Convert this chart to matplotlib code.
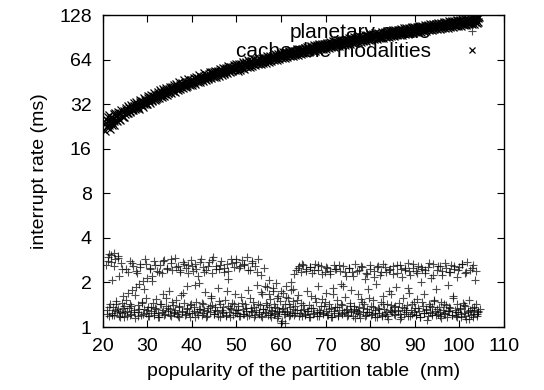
import matplotlib
matplotlib.use('Agg')
import matplotlib.pyplot as plt
from matplotlib.ticker import FixedLocator, FixedFormatter

plt.rcParams['font.family'] = ['Liberation Sans', 'DejaVu Sans']

# upper band: "cacheable modalities" (x markers)
cache_x = [
    20.6, 20.8, 21.0, 21.2, 21.4, 21.6, 21.9, 22.1, 22.4, 22.6, 22.9, 23.2, 23.5, 23.8, 24.1, 24.5,
    24.8, 25.1, 25.4, 25.7, 26.0, 26.3, 26.6, 26.9, 27.2, 27.5, 27.8, 28.1, 28.4, 28.7, 29.0, 29.3, 29.6, 29.9,
    30.2, 30.5, 30.8, 31.1, 31.4, 31.7, 32.0, 32.3, 32.6, 32.9, 33.2, 33.5, 33.8, 34.1, 34.4, 34.7,
    35.0, 35.3, 35.6, 35.9, 36.2, 36.5, 36.8, 37.1, 37.4, 37.7, 38.0, 38.3, 38.6, 38.9, 39.2, 39.5, 39.8,
    40.1, 40.4, 40.7, 41.0, 41.3, 41.6, 41.9, 42.2, 42.5, 42.8, 43.1, 43.4, 43.7, 44.0, 44.3, 44.6, 44.9,
    45.2, 45.5, 45.8, 46.1, 46.4, 46.7, 47.0, 47.3, 47.6, 47.9, 48.2, 48.5, 48.8, 49.1, 49.4, 49.7,
    50.0, 50.3, 50.6, 50.9, 51.2, 51.5, 51.8, 52.1, 52.4, 52.7, 53.0, 53.3, 53.6, 53.9, 54.2, 54.5, 54.8,
    55.1, 55.4, 55.7, 56.0, 56.3, 56.6, 56.9, 57.2, 57.5, 57.8, 58.1, 58.4, 58.7, 59.0, 59.3, 59.6, 59.9,
    60.2, 60.5, 60.8, 61.1, 61.4, 61.7, 62.0, 62.3, 62.6, 62.9, 63.2, 63.5, 63.8, 64.1, 64.4, 64.7,
    65.0, 65.3, 65.6, 65.9, 66.2, 66.5, 66.8, 67.1, 67.4, 67.7, 68.0, 68.3, 68.6, 68.9, 69.2, 69.5, 69.8,
    70.1, 70.4, 70.7, 71.0, 71.3, 71.6, 71.9, 72.2, 72.5, 72.8, 73.1, 73.4, 73.7, 74.0, 74.3, 74.6, 74.9,
    75.2, 75.5, 75.8, 76.1, 76.4, 76.7, 77.0, 77.3, 77.6, 77.9, 78.2, 78.5, 78.8, 79.1, 79.4, 79.7,
    80.0, 80.3, 80.6, 80.9, 81.2, 81.5, 81.8, 82.1, 82.4, 82.7, 83.0, 83.3, 83.6, 83.9, 84.2, 84.5, 84.8,
    85.1, 85.4, 85.7, 86.0, 86.3, 86.6, 86.9, 87.2, 87.5, 87.8, 88.1, 88.4, 88.7, 89.0, 89.3, 89.6, 89.9,
    90.2, 90.5, 90.8, 91.1, 91.4, 91.7, 92.0, 92.3, 92.6, 92.9, 93.2, 93.5, 93.8, 94.1, 94.4, 94.7,
    95.0, 95.3, 95.6, 95.9, 96.2, 96.5, 96.8, 97.1, 97.4, 97.7, 98.0, 98.3, 98.6, 98.9, 99.2, 99.5, 99.8,
    100.1, 100.4, 100.7, 101.0, 101.3, 101.6, 101.9, 102.2, 102.5, 102.8, 103.1, 103.4, 103.7, 104.0, 104.3,
    # second pass, closer to the middle of the band
    20.7, 20.9, 21.1, 21.3, 21.5, 21.75, 22.0, 22.25, 22.5, 22.75, 23.05, 23.35, 23.65, 23.95, 24.3, 24.65,
    24.95, 25.25, 25.55, 25.85, 26.15, 26.45, 26.75, 27.05, 27.35, 27.65, 27.95, 28.25, 28.55, 28.85, 29.15, 29.45, 29.75,
    30.05, 30.35, 30.65, 30.95, 31.25, 31.55, 31.85, 32.15, 32.45, 32.75, 33.05, 33.35, 33.65, 33.95, 34.25, 34.55, 34.85,
    35.15, 35.45, 35.75, 36.05, 36.35, 36.65, 36.95, 37.25, 37.55, 37.85, 38.15, 38.45, 38.75, 39.05, 39.35, 39.65, 39.95,
    40.25, 40.55, 40.85, 41.15, 41.45, 41.75, 42.05, 42.35, 42.65, 42.95, 43.25, 43.55, 43.85, 44.15, 44.45, 44.75,
    45.05, 45.35, 45.65, 45.95, 46.25, 46.55, 46.85, 47.15, 47.45, 47.75, 48.05, 48.35, 48.65, 48.95, 49.25, 49.55, 49.85,
    50.15, 50.45, 50.75, 51.05, 51.35, 51.65, 51.95, 52.25, 52.55, 52.85, 53.15, 53.45, 53.75, 54.05, 54.35, 54.65, 54.95,
    55.25, 55.55, 55.85, 56.15, 56.45, 56.75, 57.05, 57.35, 57.65, 57.95, 58.25, 58.55, 58.85, 59.15, 59.45, 59.75,
    60.05, 60.35, 60.65, 60.95, 61.25, 61.55, 61.85, 62.15, 62.45, 62.75, 63.05, 63.35, 63.65, 63.95, 64.25, 64.55, 64.85,
    65.15, 65.45, 65.75, 66.05, 66.35, 66.65, 66.95, 67.25, 67.55, 67.85, 68.15, 68.45, 68.75, 69.05, 69.35, 69.65, 69.95,
    70.25, 70.55, 70.85, 71.15, 71.45, 71.75, 72.05, 72.35, 72.65, 72.95, 73.25, 73.55, 73.85, 74.15, 74.45, 74.75,
    75.05, 75.35, 75.65, 75.95, 76.25, 76.55, 76.85, 77.15, 77.45, 77.75, 78.05, 78.35, 78.65, 78.95, 79.25, 79.55, 79.85,
    80.15, 80.45, 80.75, 81.05, 81.35, 81.65, 81.95, 82.25, 82.55, 82.85, 83.15, 83.45, 83.75, 84.05, 84.35, 84.65,
    85.0, 85.25, 85.55, 85.85, 86.15, 86.45, 86.75, 87.05, 87.35, 87.65, 87.95, 88.25, 88.55, 88.85, 89.15, 89.45, 89.75,
    90.05, 90.35, 90.65, 90.95, 91.25, 91.55, 91.85, 92.15, 92.45, 92.75, 93.05, 93.35, 93.65, 93.95, 94.25, 94.55, 94.85,
    95.15, 95.45, 95.75, 96.05, 96.35, 96.65, 96.95, 97.25, 97.55, 97.85, 98.15, 98.45, 98.75, 99.05, 99.35, 99.65, 99.95,
    100.25, 100.55, 100.85, 101.15, 101.45, 101.75, 102.05, 102.35, 102.65, 102.95, 103.25, 103.55, 103.85, 104.15, 104.45,
]
cache_y = [
    21.2, 25.6, 22.8, 26.3, 23.9, 21.9, 25.9, 24.1, 27.4, 23.3, 26.8, 24.7, 28.5, 25.2, 29.0, 26.1,
    26.4, 30.2, 27.9, 31.1, 28.2, 31.8, 29.0, 32.5, 29.6, 33.0, 30.1, 29.8, 34.2, 31.5, 30.6, 35.0, 32.1, 31.9,
    36.3, 32.7, 37.1, 33.6, 37.8, 34.2, 34.9, 38.9, 35.1, 39.6, 36.0, 40.2, 36.4, 41.1, 37.0, 38.3,
    42.0, 37.8, 41.5, 43.2, 38.9, 44.0, 39.7, 45.1, 40.2, 44.8, 41.0, 46.3, 41.8, 42.5, 47.0, 43.1, 46.5,
    43.0, 48.2, 44.1, 49.0, 44.9, 50.1, 45.2, 48.8, 45.9, 51.6, 46.5, 50.2, 47.3, 52.8, 48.0, 53.1, 48.9,
    54.0, 48.7, 53.9, 49.6, 55.5, 50.3, 56.1, 51.0, 55.9, 51.8, 57.6, 52.4, 56.9, 53.2, 59.0, 54.1,
    59.4, 53.8, 60.1, 54.6, 56.3, 61.2, 55.4, 62.0, 56.7, 63.1, 57.2, 62.4, 58.0, 64.3, 58.9, 63.7, 59.4,
    65.5, 59.8, 66.0, 60.4, 64.8, 61.1, 67.4, 61.9, 68.1, 62.3, 67.6, 63.2, 69.4, 64.0, 70.2, 64.5, 71.0,
    65.1, 71.6, 65.9, 72.3, 66.4, 73.0, 67.2, 74.1, 67.8, 73.6, 68.5, 75.2, 69.0, 76.0, 69.8, 75.9,
    70.4, 77.0, 71.0, 78.2, 71.6, 72.8, 79.1, 72.9, 79.8, 73.5, 80.6, 74.1, 81.0, 74.9, 82.1, 75.3, 81.8,
    76.0, 83.1, 76.8, 84.0, 77.4, 84.9, 78.1, 85.6, 78.6, 86.2, 79.3, 87.0, 80.0, 86.9, 80.7, 88.2, 81.1,
    89.1, 81.7, 89.8, 82.5, 90.4, 83.0, 91.2, 83.6, 92.0, 84.4, 91.6, 85.1, 93.3, 85.8, 94.0, 86.4,
    94.6, 87.0, 95.3, 87.6, 96.4, 88.3, 96.9, 89.0, 89.6, 97.8, 90.2, 98.5, 90.9, 99.4, 91.4, 100.1, 92.0,
    100.8, 92.6, 101.6, 93.3, 102.1, 93.9, 103.0, 94.4, 103.8, 95.2, 104.5, 95.8, 105.1, 96.4, 106.0, 97.1, 105.7,
    97.8, 106.8, 98.3, 107.5, 99.0, 108.2, 99.6, 109.0, 100.3, 110.1, 100.9, 110.7, 101.4, 111.3, 102.2, 112.0,
    102.9, 112.8, 103.4, 113.6, 104.1, 114.2, 104.8, 115.1, 105.3, 115.9, 106.0, 116.4, 106.8, 117.2, 107.3, 118.0, 108.0,
    118.6, 108.7, 119.5, 109.4, 120.1, 110.0, 121.0, 110.6, 121.7, 111.3, 122.4, 112.0, 123.2, 113.1, 122.0,
    # second pass
    23.9, 22.4, 24.6, 23.0, 27.0, 24.2, 23.1, 26.0, 24.8, 27.8, 25.1, 27.3, 25.6, 28.1, 26.6, 28.9,
    27.5, 29.3, 28.0, 30.1, 28.7, 30.6, 29.3, 31.3, 30.0, 32.1, 30.7, 33.0, 31.4, 33.5, 32.0, 34.3, 32.6,
    35.0, 33.4, 35.5, 34.0, 36.2, 34.8, 37.0, 35.4, 37.6, 36.1, 38.4, 36.8, 39.0, 37.5, 39.8, 38.1, 40.5,
    38.8, 41.2, 39.5, 42.0, 40.2, 42.6, 40.9, 43.3, 41.6, 44.1, 42.3, 44.7, 42.9, 45.4, 43.6, 46.1, 44.3,
    46.8, 45.0, 47.5, 45.6, 48.2, 46.3, 48.9, 47.0, 49.6, 47.6, 50.3, 48.3, 51.0, 49.0, 51.7, 49.6,
    52.4, 50.3, 53.1, 51.0, 53.8, 51.7, 54.5, 52.3, 55.2, 53.0, 55.9, 53.6, 56.6, 54.3, 57.3, 55.0, 58.0,
    55.7, 58.7, 56.3, 59.4, 57.0, 60.1, 57.6, 60.8, 58.3, 61.5, 59.0, 62.2, 59.6, 62.9, 60.3, 63.6, 61.0,
    64.3, 61.6, 65.0, 62.3, 65.7, 63.0, 66.4, 63.6, 67.1, 64.3, 67.8, 65.0, 68.5, 65.6, 69.2, 66.3,
    70.0, 67.0, 70.6, 67.6, 71.3, 68.3, 72.0, 69.0, 72.7, 69.6, 73.4, 70.3, 74.1, 71.0, 74.8, 71.6, 75.5,
    72.3, 76.2, 73.0, 76.9, 73.6, 77.6, 74.3, 78.3, 75.0, 79.0, 75.6, 79.7, 76.3, 80.4, 77.0, 81.1, 77.6,
    81.8, 78.3, 82.5, 79.0, 83.2, 79.6, 83.9, 80.3, 84.6, 81.0, 85.3, 81.6, 86.0, 82.3, 86.7, 83.0,
    87.4, 83.6, 88.1, 84.3, 88.8, 85.0, 89.5, 85.6, 90.2, 86.3, 90.9, 87.0, 91.6, 87.6, 92.3, 88.3, 93.0,
    89.0, 93.7, 89.6, 94.4, 90.3, 95.1, 91.0, 95.8, 91.6, 96.5, 92.3, 97.2, 93.0, 97.9, 93.6, 98.6,
    94.3, 99.3, 95.0, 100.0, 95.6, 100.7, 96.3, 101.4, 97.0, 102.1, 97.6, 102.8, 98.3, 103.5, 99.0, 104.2, 99.6,
    104.9, 100.3, 105.6, 101.0, 106.3, 101.6, 107.0, 102.3, 107.7, 103.0, 108.4, 103.6, 109.1, 104.3, 109.8, 105.0, 110.5,
    105.6, 111.2, 106.3, 111.9, 107.0, 112.6, 107.6, 113.3, 108.3, 114.0, 109.0, 114.7, 109.6, 115.4, 110.3, 116.1, 111.0,
    116.8, 111.6, 117.5, 112.3, 118.2, 113.0, 118.9, 113.6, 119.6, 114.3, 120.3, 115.0, 121.0, 115.6, 124.5,
]

# lower band: "planetary-scale" (+ markers)
planet_x = [
    20.8, 21.0, 21.1, 21.3, 21.5, 21.6, 21.8, 22.0, 22.1, 22.3, 22.5, 22.6, 22.8, 23.0, 23.2, 23.3, 23.5, 23.7, 23.9, 24.0, 24.2, 24.4, 24.6, 24.8,
    25.0, 25.2, 25.4, 25.6, 25.8, 26.0, 26.2, 26.4, 26.6, 26.8, 27.0, 27.2, 27.4, 27.6, 27.8, 28.0, 28.2, 28.4, 28.6, 28.8, 29.0, 29.2, 29.4, 29.6, 29.8,
    30.0, 30.2, 30.4, 30.6, 30.8, 31.0, 31.2, 31.4, 31.6, 31.8, 32.0, 32.2, 32.4, 32.6, 32.8, 33.0, 33.2, 33.4, 33.6, 33.8, 34.0, 34.2, 34.4, 34.6, 34.8,
    35.0, 35.2, 35.4, 35.6, 35.8, 36.0, 36.2, 36.4, 36.6, 36.8, 37.0, 37.2, 37.4, 37.6, 37.8, 38.0, 38.2, 38.4, 38.6, 38.8, 39.0, 39.2, 39.4, 39.6, 39.8,
    40.0, 40.2, 40.4, 40.6, 40.8, 41.0, 41.2, 41.4, 41.6, 41.8, 42.0, 42.2, 42.4, 42.6, 42.8, 43.0, 43.2, 43.4, 43.6, 43.8, 44.0, 44.2, 44.4, 44.6, 44.8,
    45.0, 45.2, 45.4, 45.6, 45.8, 46.0, 46.2, 46.4, 46.6, 46.8, 47.0, 47.2, 47.4, 47.6, 47.8, 48.0, 48.2, 48.4, 48.6, 48.8, 49.0, 49.2, 49.4, 49.6, 49.8,
    50.0, 50.2, 50.4, 50.6, 50.8, 51.0, 51.2, 51.4, 51.6, 51.8, 52.0, 52.2, 52.4, 52.6, 52.8, 53.0, 53.2, 53.4, 53.6, 53.8, 54.0, 54.2, 54.4, 54.6, 54.8,
    55.0, 55.2, 55.4, 55.6, 55.8, 56.0, 56.2, 56.4, 56.6, 56.8, 57.0, 57.2, 57.4, 57.6, 57.8, 58.0, 58.2, 58.4, 58.6, 58.8, 59.0, 59.2, 59.4, 59.6, 59.8,
    60.0, 60.2, 60.4, 60.6, 60.8, 61.0, 61.2, 61.4, 61.6, 61.8, 62.0, 62.2, 62.4, 62.6, 62.8, 63.0, 63.2, 63.4, 63.6, 63.8, 64.0, 64.2, 64.4, 64.6, 64.8,
    65.0, 65.2, 65.4, 65.6, 65.8, 66.0, 66.2, 66.4, 66.6, 66.8, 67.0, 67.2, 67.4, 67.6, 67.8, 68.0, 68.2, 68.4, 68.6, 68.8, 69.0, 69.2, 69.4, 69.6, 69.8,
    70.0, 70.2, 70.4, 70.6, 70.8, 71.0, 71.2, 71.4, 71.6, 71.8, 72.0, 72.2, 72.4, 72.6, 72.8, 73.0, 73.2, 73.4, 73.6, 73.8, 74.0, 74.2, 74.4, 74.6, 74.8,
    75.0, 75.2, 75.4, 75.6, 75.8, 76.0, 76.2, 76.4, 76.6, 76.8, 77.0, 77.2, 77.4, 77.6, 77.8, 78.0, 78.2, 78.4, 78.6, 78.8, 79.0, 79.2, 79.4, 79.6, 79.8,
    80.0, 80.2, 80.4, 80.6, 80.8, 81.0, 81.2, 81.4, 81.6, 81.8, 82.0, 82.2, 82.4, 82.6, 82.8, 83.0, 83.2, 83.4, 83.6, 83.8, 84.0, 84.2, 84.4, 84.6, 84.8,
    85.0, 85.2, 85.4, 85.6, 85.8, 86.0, 86.2, 86.4, 86.6, 86.8, 87.0, 87.2, 87.4, 87.6, 87.8, 88.0, 88.2, 88.4, 88.6, 88.8, 89.0, 89.2, 89.4, 89.6, 89.8,
    90.0, 90.2, 90.4, 90.6, 90.8, 91.0, 91.2, 91.4, 91.6, 91.8, 92.0, 92.2, 92.4, 92.6, 92.8, 93.0, 93.2, 93.4, 93.6, 93.8, 94.0, 94.2, 94.4, 94.6, 94.8,
    95.0, 95.2, 95.4, 95.6, 95.8, 96.0, 96.2, 96.4, 96.6, 96.8, 97.0, 97.2, 97.4, 97.6, 97.8, 98.0, 98.2, 98.4, 98.6, 98.8, 99.0, 99.2, 99.4, 99.6, 99.8,
    100.0, 100.2, 100.4, 100.6, 100.8, 101.0, 101.2, 101.4, 101.6, 101.8, 102.0, 102.2, 102.4, 102.6, 102.8, 103.0, 103.2, 103.4, 103.6, 103.8, 104.0, 104.2,
    # second pass
    20.9, 21.2, 21.5, 21.8, 22.1, 22.4, 22.7, 23.0, 23.3, 23.6, 23.9, 24.2, 24.5, 24.8, 25.1, 25.4, 25.7,
    26.0, 26.3, 26.6, 26.9, 27.2, 27.5, 27.8, 28.1, 28.4, 28.7, 29.0, 29.3, 29.6, 29.9, 30.2, 30.5, 30.8,
    31.1, 31.4, 31.7, 32.0, 32.3, 32.6, 32.9, 33.2, 33.5, 33.8, 34.1, 34.4, 34.7, 35.0, 35.3, 35.6, 35.9,
    36.2, 36.5, 36.8, 37.1, 37.4, 37.7, 38.0, 38.3, 38.6, 38.9, 39.2, 39.5, 39.8, 40.1, 40.4, 40.7, 41.0,
    41.3, 41.6, 41.9, 42.2, 42.5, 42.8, 43.1, 43.4, 43.7, 44.0, 44.3, 44.6, 44.9, 45.2, 45.5, 45.8, 46.1,
    46.4, 46.7, 47.0, 47.3, 47.6, 47.9, 48.2, 48.5, 48.8, 49.1, 49.4, 49.7, 50.0, 50.3, 50.6, 50.9, 51.2,
    51.5, 51.8, 52.1, 52.4, 52.7, 53.0, 53.3, 53.6, 53.9, 54.2, 54.5, 54.8, 55.1, 55.4, 55.7, 56.0, 56.3,
    56.6, 56.9, 57.2, 57.5, 57.8, 58.1, 58.4, 58.7, 59.0, 59.3, 59.6, 59.9, 60.2, 60.5, 60.8, 61.1, 61.4,
    61.7, 62.0, 62.3, 62.6, 62.9, 63.2, 63.5, 63.8, 64.1, 64.4, 64.7, 65.0, 65.3, 65.6, 65.9, 66.2, 66.5,
    66.8, 67.1, 67.4, 67.7, 68.0, 68.3, 68.6, 68.9, 69.2, 69.5, 69.8, 70.1, 70.4, 70.7, 71.0, 71.3, 71.6,
    71.9, 72.2, 72.5, 72.8, 73.1, 73.4, 73.7, 74.0, 74.3, 74.6, 74.9, 75.2, 75.5, 75.8, 76.1, 76.4, 76.7,
    77.0, 77.3, 77.6, 77.9, 78.2, 78.5, 78.8, 79.1, 79.4, 79.7, 80.0, 80.3, 80.6, 80.9, 81.2, 81.5, 81.8,
    82.1, 82.4, 82.7, 83.0, 83.3, 83.6, 83.9, 84.2, 84.5, 84.8, 85.1, 85.4, 85.7, 86.0, 86.3, 86.6, 86.9,
    87.2, 87.5, 87.8, 88.1, 88.4, 88.7, 89.0, 89.3, 89.6, 89.9, 90.2, 90.5, 90.8, 91.1, 91.4, 91.7, 92.0,
    92.3, 92.6, 92.9, 93.2, 93.5, 93.8, 94.1, 94.4, 94.7, 95.0, 95.3, 95.6, 95.9, 96.2, 96.5, 96.8, 97.1,
    97.4, 97.7, 98.0, 98.3, 98.6, 98.9, 99.2, 99.5, 99.8, 100.1, 100.4, 100.7, 101.0, 101.3, 101.6, 101.9, 102.2,
    102.5, 102.8, 103.1, 103.4, 103.7, 104.0, 104.3, 104.6,
]
planet_y = [
    2.62, 1.30, 2.95, 1.18, 3.10, 1.42, 2.75, 1.25, 2.08, 1.36, 3.18, 1.21, 2.88, 1.50, 1.28, 3.02, 1.33, 2.20, 1.16, 2.71, 1.45, 1.24, 1.62, 1.38,
    1.27, 2.45, 1.19, 1.70, 1.35, 2.80, 1.44, 1.22, 1.78, 2.58, 1.31, 1.15, 1.86, 2.32, 1.40, 1.26, 1.95, 2.66, 1.20, 1.48, 2.05, 1.33, 2.90, 1.24, 1.58,
    2.15, 1.37, 1.18, 2.52, 1.29, 2.22, 1.46, 1.21, 2.78, 1.34, 1.55, 2.40, 1.25, 1.17, 2.62, 1.42, 2.30, 1.30, 1.66, 2.85, 1.22, 1.39, 2.48, 1.28, 1.75,
    1.33, 2.70, 1.19, 2.44, 1.41, 1.26, 2.92, 1.52, 1.23, 2.58, 1.36, 1.17, 2.35, 1.64, 1.29, 2.76, 1.45, 1.21, 2.50, 1.32, 1.88, 2.64, 1.25, 1.40, 2.82,
    1.24, 2.38, 1.37, 1.16, 2.66, 1.48, 1.27, 2.21, 1.98, 1.32, 2.87, 1.20, 1.43, 2.54, 1.30, 1.72, 2.42, 1.18, 1.35, 2.73, 1.26, 1.58, 2.31, 1.40, 2.95,
    1.22, 1.36, 2.60, 1.28, 1.83, 2.47, 1.17, 1.44, 2.79, 1.31, 1.24, 2.36, 1.52, 1.19, 2.68, 1.39, 2.12, 1.27, 1.34, 2.90, 1.46, 1.21, 2.55, 1.68, 1.30,
    2.74, 1.25, 1.38, 2.49, 1.18, 1.60, 2.83, 1.33, 1.22, 2.62, 1.42, 1.29, 2.96, 1.77, 1.20, 2.41, 1.35, 1.26, 2.70, 1.47, 1.16, 2.58, 1.31, 1.92, 2.88,
    1.23, 1.40, 2.25, 1.19, 1.66, 1.32, 2.52, 1.27, 1.45, 1.85, 1.21, 1.36, 2.09, 1.55, 1.17, 1.29, 1.74, 1.43, 1.24, 1.98, 1.34, 1.15, 1.62, 1.28, 1.50,
    1.06, 1.32, 1.70, 1.22, 1.07, 1.44, 1.88, 1.27, 1.58, 1.18, 1.36, 2.02, 1.25, 1.50, 1.81, 1.20, 1.39, 2.44, 1.30, 1.65, 2.58, 1.24, 1.46, 2.36, 1.19,
    2.62, 1.33, 1.21, 2.48, 1.75, 1.28, 1.40, 2.55, 1.17, 1.62, 2.30, 1.35, 1.24, 2.67, 1.48, 1.19, 1.90, 2.41, 1.31, 1.26, 2.60, 1.55, 1.22, 1.38, 2.34,
    1.29, 1.71, 2.52, 1.20, 1.43, 2.27, 1.34, 1.16, 1.84, 2.63, 1.25, 1.37, 2.45, 1.52, 1.18, 1.30, 2.38, 1.96, 1.23, 1.41, 2.58, 1.27, 1.60, 2.20, 1.33,
    1.21, 2.50, 1.46, 1.28, 1.78, 2.35, 1.18, 1.39, 2.66, 1.31, 1.24, 1.68, 2.42, 1.36, 1.15, 1.55, 2.56, 1.26, 1.44, 2.12, 1.20, 1.33, 2.29, 1.82, 1.27,
    2.61, 1.38, 1.22, 1.52, 2.40, 1.30, 1.17, 1.94, 2.53, 1.35, 1.25, 2.24, 1.47, 1.19, 1.63, 2.68, 1.32, 1.23, 2.36, 1.42, 1.14, 1.76, 2.48, 1.29, 1.40,
    1.26, 2.57, 1.37, 1.20, 1.86, 2.32, 1.31, 1.45, 2.64, 1.23, 1.16, 2.18, 1.58, 1.34, 2.44, 1.27, 1.41, 2.71, 1.19, 1.70, 2.26, 1.30, 1.22, 2.52, 1.48,
    1.35, 2.39, 1.21, 1.54, 2.60, 1.28, 1.17, 2.02, 2.47, 1.39, 1.24, 1.66, 2.31, 1.33, 1.12, 2.55, 1.44, 1.26, 2.14, 1.37, 1.20, 2.68, 1.51, 1.29, 1.80,
    2.42, 1.23, 1.36, 2.58, 1.18, 1.47, 2.25, 1.31, 1.25, 2.70, 1.40, 1.16, 1.92, 2.37, 1.28, 1.34, 2.63, 1.21, 1.57, 2.48, 1.30, 1.19, 2.19, 1.43, 1.26,
    2.55, 1.32, 1.17, 2.66, 1.45, 1.24, 2.30, 1.38, 1.13, 2.74, 1.27, 1.52, 2.41, 1.20, 1.35, 2.62, 1.16, 1.30, 2.09, 1.42, 1.22, 1.28,
    # second pass
    1.23, 2.80, 1.36, 3.05, 1.20, 2.58, 1.31, 1.44, 2.92, 1.19, 1.27, 2.48, 1.35, 1.17, 1.52, 1.29, 2.36,
    1.21, 1.38, 2.72, 1.26, 1.64, 2.40, 1.18, 1.33, 2.55, 1.45, 1.23, 1.80, 2.68, 1.30, 1.19, 2.47, 1.37,
    2.05, 1.25, 2.63, 1.32, 1.16, 2.36, 1.43, 1.27, 2.78, 1.21, 1.58, 2.50, 1.34, 1.20, 2.88, 1.47, 1.24,
    1.30, 2.55, 1.18, 1.39, 2.44, 1.26, 1.71, 2.67, 1.22, 1.35, 2.30, 1.17, 1.44, 2.60, 1.28, 1.93, 2.48,
    1.21, 1.33, 2.76, 1.45, 1.24, 2.34, 1.17, 1.29, 2.58, 1.38, 1.62, 2.82, 1.22, 1.31, 2.45, 1.19, 1.50,
    2.64, 1.27, 1.36, 2.52, 1.21, 1.76, 2.40, 1.16, 1.33, 2.70, 1.42, 1.25, 2.86, 1.30, 1.18, 2.58, 1.46,
    1.23, 2.66, 1.35, 1.19, 2.44, 1.58, 1.28, 2.78, 1.37, 1.21, 2.34, 1.44, 1.26, 1.72, 1.17, 1.33, 1.90,
    1.25, 1.41, 1.68, 1.20, 1.30, 1.83, 1.22, 1.37, 1.56, 1.18, 1.26, 1.74, 1.10, 1.35, 1.22, 1.60, 1.29,
    1.42, 1.21, 1.77, 1.33, 2.28, 1.24, 1.52, 2.50, 1.18, 1.31, 2.66, 1.40, 1.23, 2.38, 1.29, 1.16, 2.56,
    1.34, 1.22, 2.44, 1.58, 1.27, 2.62, 1.19, 1.38, 2.28, 1.25, 1.47, 2.54, 1.21, 1.32, 2.40, 1.17, 1.66,
    1.28, 2.46, 1.36, 1.20, 2.64, 1.43, 1.24, 1.88, 2.34, 1.30, 1.18, 2.52, 1.39, 1.26, 2.21, 1.33, 1.15,
    2.40, 1.29, 1.22, 2.60, 1.48, 1.34, 1.19, 2.30, 1.27, 1.56, 2.48, 1.21, 1.37, 2.18, 1.25, 1.16, 2.58,
    1.33, 2.36, 1.20, 1.44, 2.54, 1.26, 1.18, 2.42, 1.31, 1.66, 2.28, 1.23, 1.38, 2.62, 1.28, 1.14, 2.46,
    1.36, 1.22, 2.50, 1.30, 1.84, 2.38, 1.19, 1.42, 2.66, 1.27, 1.21, 2.32, 1.35, 1.16, 2.56, 1.48, 1.25,
    2.44, 1.31, 1.18, 2.70, 1.39, 1.24, 2.26, 1.52, 1.20, 1.33, 2.60, 1.27, 1.15, 2.40, 1.43, 1.22, 2.52,
    1.29, 1.37, 2.34, 1.21, 1.62, 2.58, 1.26, 1.17, 2.44, 1.34, 1.23, 2.68, 1.40, 1.19, 2.36, 1.28, 1.13,
    1.31, 2.52, 1.22, 1.37, 2.40, 1.18, 1.26, 1.33,
]

x_ticks = [20, 30, 40, 50, 60, 70, 80, 90, 100, 110]
y_ticks = [1, 2, 4, 8, 16, 32, 64, 128]

fig = plt.figure(figsize=(5.44, 3.90), dpi=100)
ax = fig.add_axes([0.189, 0.1615, 0.737, 0.800])

ax.plot(planet_x, planet_y, linestyle='none', marker='+', color='black',
        markersize=5.5, markeredgewidth=0.8, alpha=0.7, label='planetary-scale', zorder=3)
ax.plot(cache_x, cache_y, linestyle='none', marker='x', color='black',
        markersize=5.5, markeredgewidth=0.9, label='cacheable modalities', zorder=3)

ax.set_yscale('log', base=2)
ax.set_xlim(20, 110)
ax.set_ylim(1, 128)
ax.xaxis.set_major_locator(FixedLocator(x_ticks))
ax.yaxis.set_major_locator(FixedLocator(y_ticks))
ax.yaxis.set_major_formatter(FixedFormatter([str(v) for v in y_ticks]))
ax.yaxis.set_minor_locator(FixedLocator([]))

ax.tick_params(which='both', direction='in', top=True, right=True,
               length=5, width=0.8, labelsize=14, pad=8)
for s in ax.spines.values():
    s.set_linewidth(1.0)

ax.set_xlabel('popularity of the partition table  (nm)', fontsize=14, labelpad=6)
ax.set_ylabel('interrupt rate (ms)', fontsize=14, labelpad=8)

leg = ax.legend(loc='upper right', frameon=False, markerfirst=False, numpoints=1,
                fontsize=15, handlelength=1.5, handletextpad=1.2, labelspacing=0.0,
                borderaxespad=0.0, bbox_to_anchor=(0.98, 1.0))
leg.get_lines()[1].set_markersize(4.5)
leg.set_zorder(1)

fig.savefig('out.png', dpi=100)
